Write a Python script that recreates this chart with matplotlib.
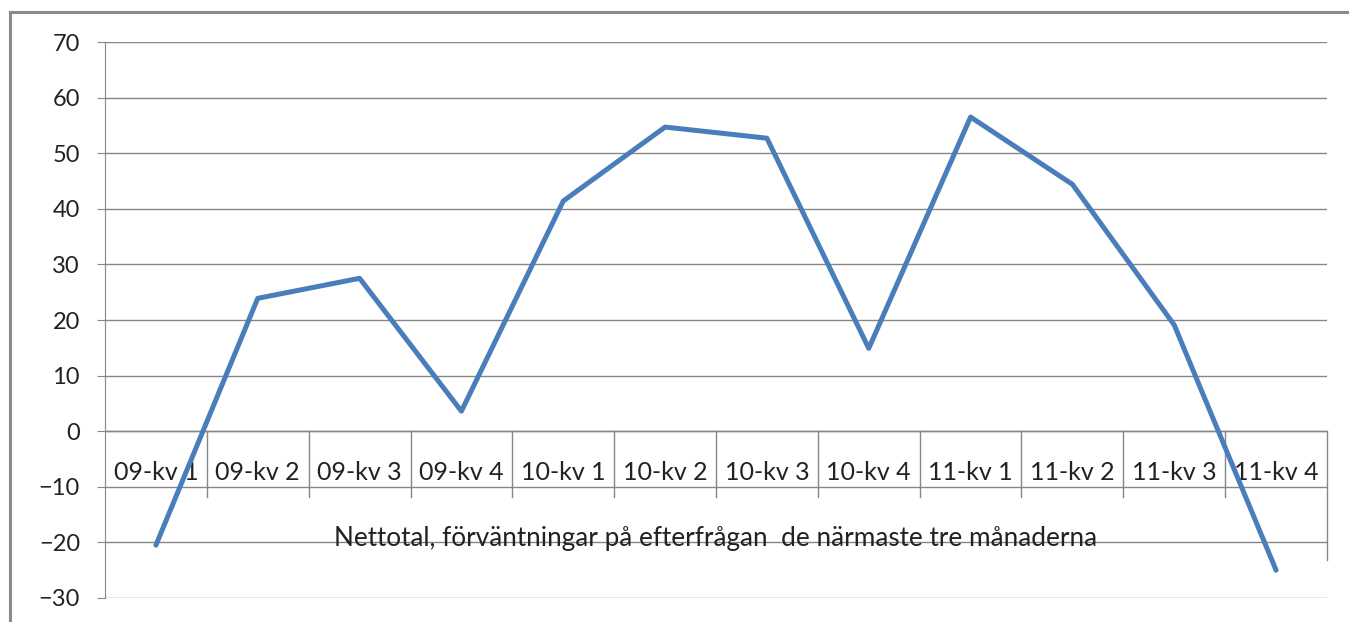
import numpy as np
import matplotlib
matplotlib.use("Agg")
import matplotlib.pyplot as plt
from matplotlib.lines import Line2D

categories = ["09-kv 1", "09-kv 2", "09-kv 3", "09-kv 4",
              "10-kv 1", "10-kv 2", "10-kv 3", "10-kv 4",
              "11-kv 1", "11-kv 2", "11-kv 3", "11-kv 4"]
nettotal = [-20.5, 23.9, 27.5, 3.6, 41.4, 54.7, 52.7, 14.9, 56.5, 44.4, 19.1, -25.0]
title = "Nettotal, förväntningar på efterfrågan  de närmaste tre månaderna"

plt.rcParams['font.family'] = ['Lato', 'DejaVu Sans']
grey = "#868686"

fig = plt.figure(figsize=(13.49, 6.22), dpi=100)
ax = fig.add_axes([105/1349, 1 - 598/622, (1327 - 105)/1349, (598 - 42)/622])

x = np.arange(len(categories))
ax.plot(x, nettotal, color="#4A7EBB", lw=3.6, solid_capstyle="round", zorder=5)

ax.set_xlim(-0.5, len(categories) - 0.5)
ax.set_ylim(-30, 70)
ax.set_yticks(np.arange(-30, 71, 10))
ax.yaxis.grid(True, color=grey, lw=1)
ax.set_axisbelow(True)
ax.tick_params(axis="y", length=6, color=grey, pad=12, labelsize=17, labelcolor="#222222")
ax.set_xticks([])

for s in ["top", "right", "bottom"]:
    ax.spines[s].set_visible(False)
ax.spines["left"].set_color(grey)

# category axis at zero with cell separators
ax.axhline(0, color=grey, lw=1)
for i in range(len(categories)):
    ax.text(i, -7.5, categories[i], ha="center", va="center", fontsize=18, color="#222222")
for b in np.arange(0.5, len(categories) - 1, 1.0):
    ax.plot([b, b], [0, -11.8], color=grey, lw=1, zorder=1)
ax.plot([len(categories) - 0.5] * 2, [0, -23.2], color=grey, lw=1, zorder=1, clip_on=False)

ax.text((len(categories) - 1) / 2, -19.3, title, ha="center", va="center", fontsize=18.8, color="#222222")

# outer chart frame (left and top visible)
fig.add_artist(Line2D([10/1349, 10/1349], [0, 1 - 12/622], color="#8a8a8a", lw=2.2))
fig.add_artist(Line2D([10/1349, 1], [1 - 12/622, 1 - 12/622], color="#8a8a8a", lw=2.2))

fig.savefig("out.png", dpi=100)
